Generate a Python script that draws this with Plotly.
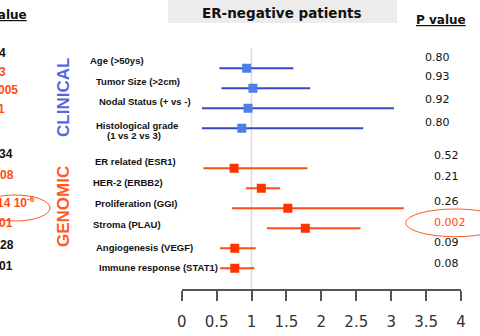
import plotly.graph_objects as go

# ---------------- data ----------------
labels = ["Age (>50ys)", "Tumor Size (>2cm)", "Nodal Status (+ vs -)",
          "Histological grade<br>(1 vs 2 vs 3)",
          "ER related (ESR1)", "HER-2 (ERBB2)", "Proliferation (GGI)",
          "Stroma (PLAU)", "Angiogenesis (VEGF)", "Immune response (STAT1)"]
groups = ["clinical"] * 4 + ["genomic"] * 6
row_pos = [0, 1, 2, 3, 5, 6, 7, 8, 9, 10]
hr = [0.93, 1.02, 0.95, 0.86, 0.75, 1.14, 1.52, 1.77, 0.76, 0.76]
ci_low = [0.54, 0.57, 0.29, 0.29, 0.31, 0.92, 0.72, 1.22, 0.55, 0.55]
ci_high = [1.60, 1.84, 3.04, 2.60, 1.80, 1.41, 3.18, 2.56, 1.06, 1.04]
p_values = ["0.80", "0.93", "0.92", "0.80", "0.52", "0.21", "0.26", "0.002", "0.09", "0.08"]
left_p_values = ["4", "3", "005", "1", "34", "08", "14 10<sup>-6</sup>", "01", "28", "01"]
left_p_colors = ["#111111", "#ff4a10", "#ff4a10", "#ff4a10", "#111111", "#ff4a10",
                 "#ff4a10", "#ff4a10", "#111111", "#111111"]
x_ticks = [0, 0.5, 1, 1.5, 2, 2.5, 3, 3.5, 4]
x_tick_labels = ["0", "0.5", "1", "1.5", "2", "2.5", "3", "3.5", "4"]

W, H = 480, 336
BLUE_LINE, BLUE_MARK = "#3848c8", "#4d80e6"
RED_LINE, RED_MARK = "#ff4a1a", "#ff3300"


def px(x):
    return x / W


def py(y):
    return 1 - y / H


fig = go.Figure()

for grp, lc, mc in [("clinical", BLUE_LINE, BLUE_MARK), ("genomic", RED_LINE, RED_MARK)]:
    idx = [i for i, g in enumerate(groups) if g == grp]
    fig.add_trace(go.Scatter(
        x=[hr[i] for i in idx],
        y=[row_pos[i] for i in idx],
        mode="markers",
        marker=dict(symbol="square", size=9, color=mc),
        error_x=dict(type="data", symmetric=False,
                     array=[ci_high[i] - hr[i] for i in idx],
                     arrayminus=[hr[i] - ci_low[i] for i in idx],
                     color=lc, thickness=2, width=0),
        showlegend=False, hoverinfo="skip",
    ))

# reference line at HR = 1
fig.add_shape(type="line", xref="x", yref="y", x0=1, x1=1, y0=-1.0, y1=11.05,
              line=dict(color="#dcdcdc", width=1.5), layer="below")

# title box
fig.add_shape(type="rect", xref="paper", yref="paper",
              x0=px(168), x1=px(397), y0=py(23), y1=py(0),
              fillcolor="#ececec", line=dict(width=0), layer="below")

ann = []
ann.append(dict(text="<b>ER-negative patients</b>", x=px(282), y=py(13),
                font=dict(family="DejaVu Sans", size=13.5, color="#111")))
ann.append(dict(text="<b><u>P value</u></b>", x=px(441), y=py(20),
                font=dict(family="DejaVu Sans", size=12, color="#111")))
ann.append(dict(text="<b><u>value</u></b>", x=px(29), y=py(15), xanchor="right",
                font=dict(family="DejaVu Sans", size=12, color="#111")))

# group labels
ann.append(dict(text="<b>CLINICAL</b>", x=px(63), y=py(98), textangle=-90,
                font=dict(family="Liberation Sans", size=17, color="#5466e0")))
ann.append(dict(text="<b>GENOMIC</b>", x=px(63), y=py(207), textangle=-90,
                font=dict(family="Liberation Sans", size=17, color="#ff5a1f")))

# row labels
label_x = [88, 94, 97, 94, 93, 91, 93, 91, 94, 97]
label_y = [60, 81, 101, 130, 161, 182, 203, 225, 247, 267]
for t, lx, ly in zip(labels, label_x, label_y):
    if "<br>" in t:
        a, b = t.split("<br>")
        ann.append(dict(text=f"<b>{a}</b>", x=px(lx), y=py(ly - 5), xanchor="left",
                        font=dict(family="Liberation Sans", size=9.5, color="#111")))
        ann.append(dict(text=f"<b>{b}</b>", x=px(lx + 11), y=py(ly + 5), xanchor="left",
                        font=dict(family="Liberation Sans", size=9.5, color="#111")))
    else:
        ann.append(dict(text=f"<b>{t}</b>", x=px(lx), y=py(ly), xanchor="left",
                        font=dict(family="Liberation Sans", size=9.5, color="#111")))

# right p-values
pv_x = [423, 423, 423, 423, 432, 432, 432, 432, 432, 432]
pv_y = [57, 77, 99, 122, 155, 176, 201, 222, 242, 263]
for t, xx, yy in zip(p_values, pv_x, pv_y):
    col = "#ff4a10" if t == "0.002" else "#111"
    ann.append(dict(text=t, x=px(xx), y=py(yy), xanchor="left",
                    font=dict(family="DejaVu Sans", size=11, color=col)))

# left (cut-off) p-values of the neighbouring panel
lp_x = [8, 8, 20, 7, 15, 16, 37, 15, 16, 15]
lp_y = [53, 72, 90, 109, 154, 175, 202, 223, 245, 266]
for t, c, xx, yy in zip(left_p_values, left_p_colors, lp_x, lp_y):
    ann.append(dict(text=f"<b>{t}</b>", x=px(xx), y=py(yy), xanchor="right",
                    font=dict(family="Liberation Sans", size=12, color=c)))

for a in ann:
    a.setdefault("xref", "paper")
    a.setdefault("yref", "paper")
    a.setdefault("showarrow", False)
    a.setdefault("yanchor", "middle")
    a.setdefault("xanchor", "center")

# highlight ellipses
fig.add_shape(type="circle", xref="paper", yref="paper",
              x0=px(-20), x1=px(50), y0=py(221), y1=py(195),
              line=dict(color="#ff5a1f", width=1))
fig.add_shape(type="circle", xref="paper", yref="paper",
              x0=px(405.7), x1=px(505), y0=py(236.7), y1=py(209),
              line=dict(color="#ff5a1f", width=1))

fig.update_layout(
    width=W, height=H,
    margin=dict(l=0, r=0, t=0, b=0, autoexpand=False),
    paper_bgcolor="white", plot_bgcolor="white",
    annotations=ann,
    xaxis=dict(domain=[181.7 / W, 461 / W], range=[0, 4], automargin=False,
               tickvals=x_ticks, ticktext=x_tick_labels,
               showgrid=False, zeroline=False, showline=True,
               linecolor="#555", linewidth=2,
               ticks="outside", ticklen=10, tickwidth=2, tickcolor="#555",
               tickfont=dict(family="DejaVu Sans", size=15, color="#333"),
               ticklabelstandoff=8),
    yaxis=dict(domain=[(H - 289.3) / H, 1], range=[11.05, -3.415], automargin=False,
               visible=False, showgrid=False, zeroline=False),
)

fig.write_html("out.html", config={"displayModeBar": False},
               post_script="document.body.style.margin='0px';")
